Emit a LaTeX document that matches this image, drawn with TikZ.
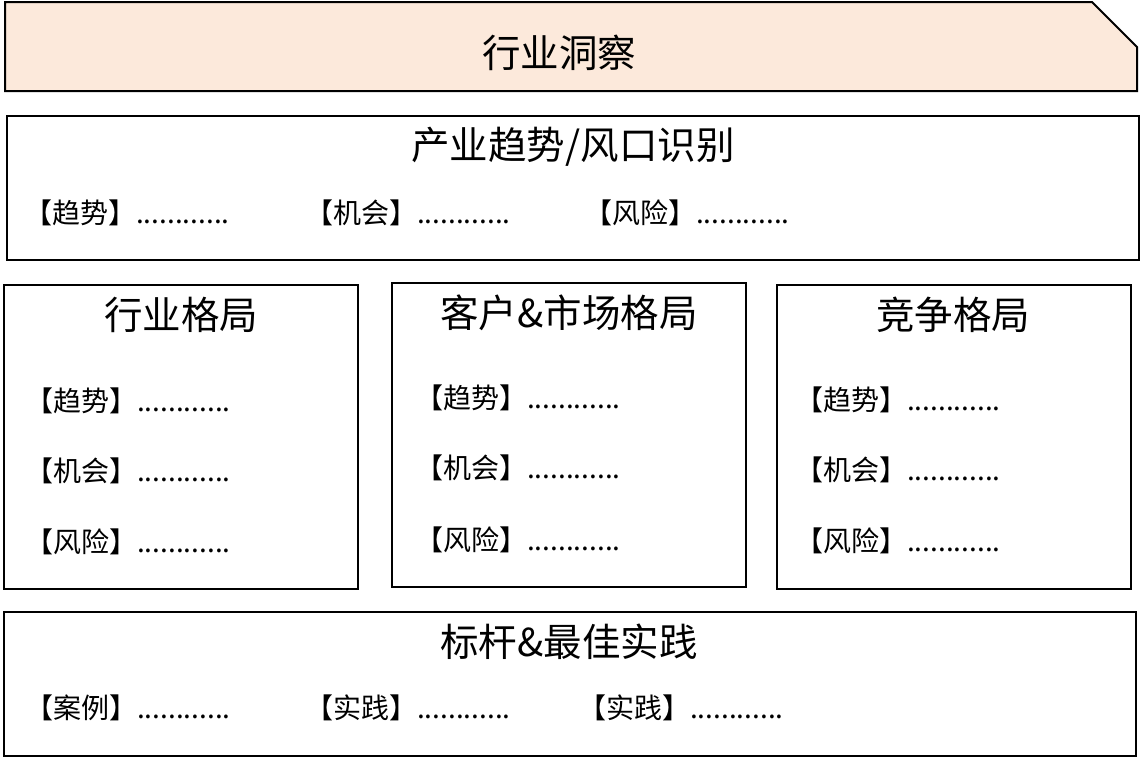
\documentclass[tikz,border=0pt]{standalone}
\usepackage{fontspec}
\newfontfamily\cjk{Noto Sans CJK SC}
\definecolor{peach}{RGB}{252,233,219}
\begin{document}
\begin{tikzpicture}[x=1pt,y=-1pt,
  frame/.style={draw=black,line width=2pt},
  headtext/.style={font=\cjk\fontsize{38.5}{42}\selectfont,inner sep=0pt,anchor=center},
  itemtext/.style={font=\cjk\fontsize{28}{30}\selectfont,inner sep=0pt,anchor=west}]
\useasboundingbox (0,0) rectangle (1141,758);
% banner
\draw[frame,fill=peach] (5,2) -- (1092,2) -- (1137,47) -- (1137,91) -- (5,91) -- cycle;
\node[headtext] (t0) at (559,53) {行业洞察};
% trend box
\draw[frame] (7,116) rectangle (1139,260);
\node[headtext] (t1) at (573,147) {产业趋势/风口识别};
\node[itemtext] (a1) at (24,213) {【趋势】............};
\node[itemtext] (a2) at (305,213) {【机会】............};
\node[itemtext] (a3) at (584,213) {【风险】............};
% three boxes
\draw[frame] (4,285) rectangle (358,589);
\draw[frame] (392,283) rectangle (746,587);
\draw[frame] (777,285) rectangle (1131,589);
\node[headtext] (t2) at (181,315) {行业格局};
\node[headtext] (t3) at (569,313) {客户\&市场格局};
\node[headtext] (t4) at (953,315) {竞争格局};
\node[itemtext] (b1) at (25,401) {【趋势】............};
\node[itemtext] (b2) at (25,471) {【机会】............};
\node[itemtext] (b3) at (25,542) {【风险】............};
\node[itemtext] (c1) at (415,398) {【趋势】............};
\node[itemtext] (c2) at (415,468) {【机会】............};
\node[itemtext] (c3) at (415,540) {【风险】............};
\node[itemtext] (d1) at (795,400) {【趋势】............};
\node[itemtext] (d2) at (795,470) {【机会】............};
\node[itemtext] (d3) at (795,541) {【风险】............};
% bottom box
\draw[frame] (4,612) rectangle (1136,756);
\node[headtext] (t5) at (569,642) {标杆\&最佳实践};
\node[itemtext] (e1) at (25,708) {【案例】............};
\node[itemtext] (e2) at (305,708) {【实践】............};
\node[itemtext] (e3) at (578,708) {【实践】............};
\end{tikzpicture}
\end{document}
